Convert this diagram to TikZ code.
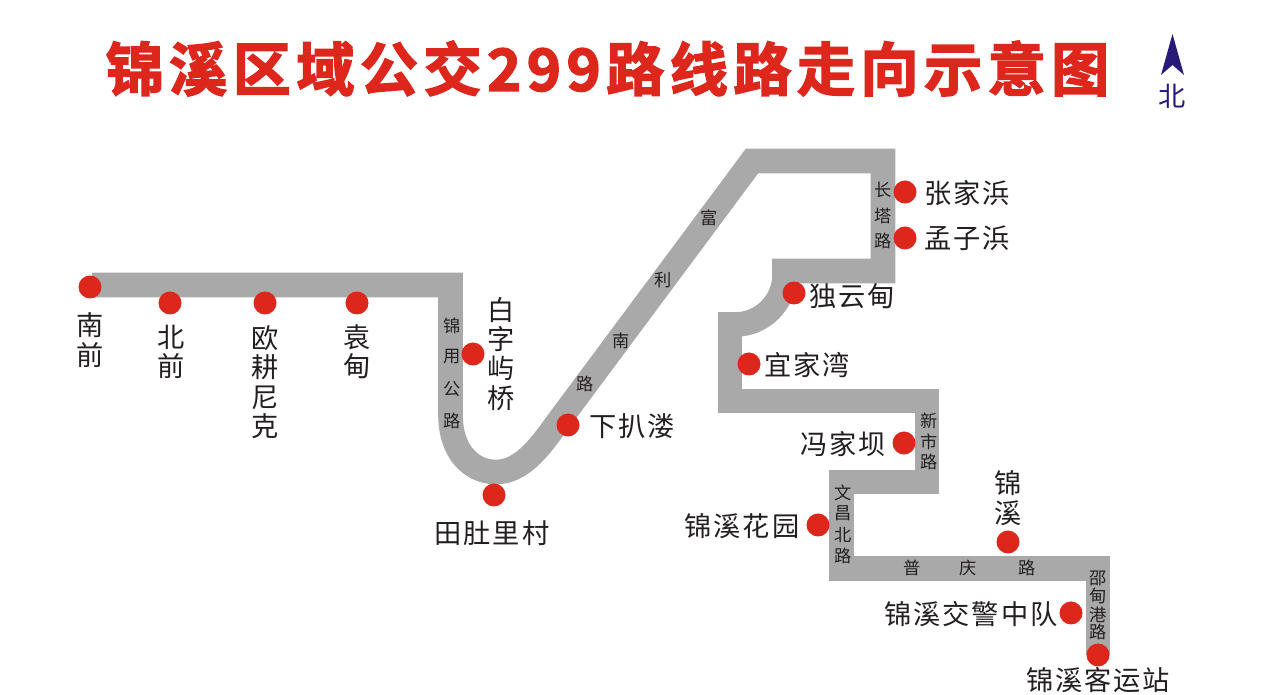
\documentclass[tikz,border=0pt]{standalone}
\usepackage{fontspec}
\setmainfont{Noto Sans CJK SC}
\newfontfamily\titlefont[LetterSpace=9.3,FakeBold=2.5]{Noto Sans CJK SC Bold}
\newfontfamily\stopfont[LetterSpace=7]{Noto Sans CJK SC}
\newfontfamily\roadfont{Noto Sans CJK SC}
\definecolor{routered}{HTML}{DD261C}
\definecolor{roadgray}{HTML}{A9A9A9}
\definecolor{northblue}{HTML}{2A1A78}
\definecolor{inkblack}{HTML}{231F20}
\tikzset{
  road/.style={draw=roadgray,line width=14pt,line join=miter,miter limit=10},
  stop/.style={circle,fill=routered,minimum size=23*.02cm,inner sep=0pt},
  stoplabel/.style={inner sep=0pt,text=inkblack,align=center,
    font=\stopfont\fontsize{15.5}{16.7}\selectfont},
  roadlabel/.style={inner sep=0pt,text=inkblack,
    font=\roadfont\fontsize{9.8}{10}\selectfont},
}
\begin{document}
\begin{tikzpicture}[x=.02cm,y=-.02cm]
  \useasboundingbox (0,0) rectangle (1269,695);

  % title and the north mark
  \node [inner sep=0pt,text=routered,font=\titlefont\fontsize{33.1}{36}\selectfont]
    (title) at (607.5,68.5) {锦溪区域公交299路线路走向示意图};
  \fill [northblue] (1172.5,34) -- (1184,75) -- (1172.5,65) -- (1161,75) -- cycle;
  \node [inner sep=0pt,text=northblue,font=\fontsize{15.5}{16}\selectfont]
    (north) at (1172.5,96) {北};

  % the road, in three strokes because of the bend at the top
  \draw [road] (92,285) -- (450.5,285) -- (450.5,415)
    .. controls (450.5,450) and (470,472) .. (496,472)
    .. controls (520,472) and (538,450) .. (555,426)
    -- (752,161) -- (883,161) -- (883,271) -- (772,271);
  \draw [road] (784.5,275) .. controls (784.5,302.3) and (762.3,324.5) .. (735,324.5)
    -- (718,324.5);
  \draw [road] (730,313) -- (730,401) -- (927,401) -- (927,482) -- (841.5,482)
    -- (841.5,568.5) -- (1098,568.5) -- (1098,655);

  % names of the roads
  \foreach \ch/\x/\y in {锦/452/326,用/452/357,公/452/389,路/452/421,
      富/709/218,利/663/280,南/621/341,路/585/384,
      长/883/190,塔/883/216,路/883/241,
      新/929/421,市/929/442,路/929/462,
      文/843/493,昌/843/513,北/843/535,路/843/556,
      普/912/568,庆/968/568,路/1027/568,
      邵/1098/578,甸/1098/596,港/1098/615,路/1098/632}
    \node [roadlabel] (road\x-\y) at (\x,\y) {\ch};

  % the stops
  \foreach \name/\x/\y in {nanqian/90/287,beiqian/170/303,ougeng/265/303,
      yuandian/357/303,baizi/473/354,tiandu/494/495,xiaba/568/425,
      duyun/794/293,yijia/749/364,zhangjia/905/192,mengzi/905/238,
      fengjia/904/443,huayuan/818/525,jinxi/1008/542,jiaojing/1071/613,
      keyun/1098/655}
    \node [stop] (\name) at (\x,\y) {};

  % labels of the stops
  \node [stoplabel] (lblnanqian) at (90,340) {南\\前};
  \node [stoplabel] (lblbeiqian) at (171,352) {北\\前};
  \node [stoplabel] (lblougeng) at (265,382) {欧\\耕\\尼\\克};
  \node [stoplabel] (lblyuandian) at (357,352) {袁\\甸};
  \node [stoplabel] (lblbaizi) at (501,354) {白\\字\\屿\\桥};
  \node [stoplabel] (lbltiandu) at (492,533) {田肚里村};
  \node [stoplabel] (lblxiaba) at (632,426) {下扒溇};
  \node [stoplabel] (lblduyun) at (852,296) {独云甸};
  \node [stoplabel] (lblyijia) at (807,365) {宜家湾};
  \node [stoplabel] (lblzhangjia) at (967,193) {张家浜};
  \node [stoplabel] (lblmengzi) at (967,238) {孟子浜};
  \node [stoplabel] (lblfengjia) at (843,444) {冯家坝};
  \node [stoplabel] (lblhuayuan) at (742,526) {锦溪花园};
  \node [stoplabel] (lbljinxi) at (1008,498) {锦\\溪};
  \node [stoplabel] (lbljiaojing) at (971,614) {锦溪交警中队};
  \node [stoplabel] (lblkeyun) at (1098,680) {锦溪客运站};
\end{tikzpicture}
\end{document}
